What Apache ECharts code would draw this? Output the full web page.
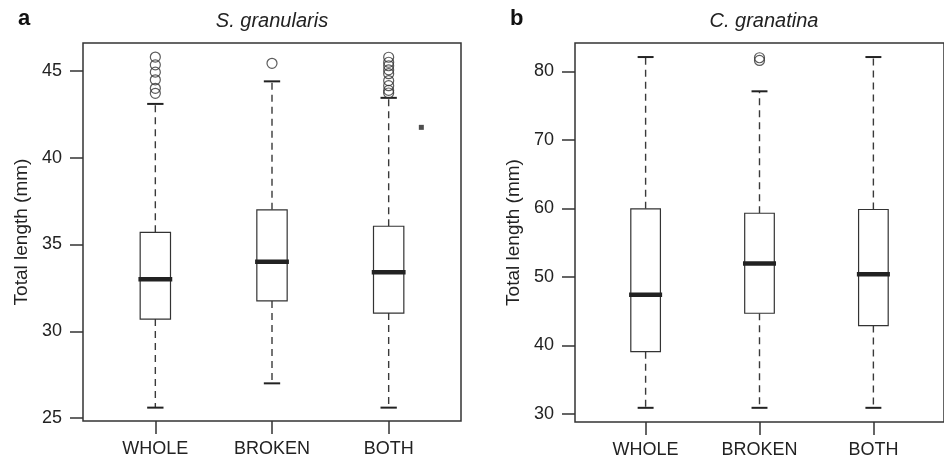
<!DOCTYPE html>
<html>
<head>
<meta charset="utf-8">
<script src="https://cdn.jsdelivr.net/npm/echarts@6/dist/echarts.min.js"></script>
<style>
  html, body { margin: 0; padding: 0; background: #fff; }
  #chart { width: 944px; height: 459px; }
</style>
</head>
<body>
<div id="chart"></div>
<script>
const categories = ['WHOLE', 'BROKEN', 'BOTH'];

// S. granularis: [lower whisker, Q1, median, Q3, upper whisker]
const granularisStats = [
  [25.6, 30.7, 33.0, 35.7, 43.1],
  [27.0, 31.75, 34.0, 37.0, 44.4],
  [25.6, 31.05, 33.4, 36.05, 43.45]
];
// outliers: [category index (1-based), value]
const granularisOutliers = [
  [1, 45.8], [1, 45.35], [1, 44.93], [1, 44.49], [1, 44.0], [1, 43.71],
  [2, 45.44],
  [3, 45.79], [3, 45.5], [3, 45.3], [3, 45.06], [3, 44.84], [3, 44.44],
  [3, 44.15], [3, 43.88], [3, 43.73]
];
const granularisStray = [[3.28, 41.75]];

// C. granatina
const granatinaStats = [
  [30.9, 39.1, 47.4, 59.95, 82.1],
  [30.9, 44.7, 51.95, 59.3, 77.1],
  [30.9, 42.9, 50.4, 59.85, 82.1]
];
const granatinaOutliers = [[2, 82.0], [2, 81.6]];

const granularisTicks = [25, 30, 35, 40, 45];
const granatinaTicks = [30, 40, 50, 60, 70, 80];

const font = "'Liberation Sans', Arial, sans-serif";
const ink = '#222';

// R-style box: dashed whiskers, short staples, thick median
function renderBox(params, api) {
  const x = api.value(0);
  const unit = api.size([1, 0])[0];
  const half = unit * 0.13;
  const medHalf = unit * 0.145;
  const capHalf = unit * 0.07;
  const lo = api.coord([x, api.value(1)]);
  const q1 = api.coord([x, api.value(2)]);
  const md = api.coord([x, api.value(3)]);
  const q3 = api.coord([x, api.value(4)]);
  const hi = api.coord([x, api.value(5)]);
  const cx = lo[0];
  const dash = { stroke: '#3a3a3a', lineWidth: 1.4, lineDash: [7, 5] };
  const cap = { stroke: ink, lineWidth: 2 };
  return {
    type: 'group',
    children: [
      { type: 'line', shape: { x1: cx, y1: q3[1], x2: cx, y2: hi[1] }, style: dash },
      { type: 'line', shape: { x1: cx, y1: q1[1], x2: cx, y2: lo[1] }, style: dash },
      { type: 'line', shape: { x1: cx - capHalf, y1: hi[1], x2: cx + capHalf, y2: hi[1] }, style: cap },
      { type: 'line', shape: { x1: cx - capHalf, y1: lo[1], x2: cx + capHalf, y2: lo[1] }, style: cap },
      { type: 'rect', shape: { x: cx - half, y: q3[1], width: half * 2, height: q1[1] - q3[1] },
        style: { fill: '#fff', stroke: '#333', lineWidth: 1.2 } },
      { type: 'line', shape: { x1: cx - medHalf, y1: md[1], x2: cx + medHalf, y2: md[1] },
        style: { stroke: ink, lineWidth: 4.5 } }
    ]
  };
}

function boxData(stats) {
  return stats.map((s, i) => [i + 1].concat(s));
}

function xAxis(gridIndex) {
  return {
    gridIndex: gridIndex,
    type: 'value',
    min: 0.38,
    max: 3.62,
    axisLine: { show: false },
    splitLine: { show: false },
    axisTick: { customValues: [1, 2, 3], length: 13, lineStyle: { color: '#333', width: 1.5 } },
    axisLabel: {
      customValues: [1, 2, 3],
      margin: 19,
      fontSize: 18,
      fontFamily: font,
      color: ink,
      formatter: v => categories[Math.round(v) - 1]
    }
  };
}

function yAxis(gridIndex, min, max, ticks) {
  return {
    gridIndex: gridIndex,
    type: 'value',
    min: min,
    max: max,
    name: 'Total length (mm)',
    nameLocation: 'middle',
    nameGap: 52,
    nameRotate: 90,
    nameTextStyle: { fontSize: 19, fontFamily: font, color: ink },
    axisLine: { show: false },
    splitLine: { show: false },
    axisTick: { customValues: ticks, length: 13, lineStyle: { color: '#333', width: 1.5 } },
    axisLabel: { customValues: ticks, margin: 21, fontSize: 18, fontFamily: font, color: ink }
  };
}

const outlierStyle = { color: 'rgba(0,0,0,0)', borderColor: '#333', borderWidth: 1.2 };

const chart = echarts.init(document.getElementById('chart'), null, { renderer: 'canvas' });
chart.setOption({
  animation: false,
  backgroundColor: '#fff',
  grid: [
    { left: 83, top: 43, width: 378, height: 378, show: true, borderColor: '#333', borderWidth: 1.5 },
    { left: 575, top: 43, width: 378, height: 379, show: true, borderColor: '#333', borderWidth: 1.5 }
  ],
  xAxis: [xAxis(0), xAxis(1)],
  yAxis: [yAxis(0, 24.83, 46.61, granularisTicks), yAxis(1, 28.83, 84.15, granatinaTicks)],
  graphic: [
    { type: 'text', x: 18, y: 19, style: { text: 'a', fontSize: 22, fontWeight: 'bold', fontFamily: font, fill: '#111', verticalAlign: 'middle' } },
    { type: 'text', x: 272, y: 21, style: { text: 'S. granularis', fontSize: 20, fontStyle: 'italic', fontFamily: font, fill: ink, align: 'center', verticalAlign: 'middle' } },
    { type: 'text', x: 510, y: 19, style: { text: 'b', fontSize: 22, fontWeight: 'bold', fontFamily: font, fill: '#111', verticalAlign: 'middle' } },
    { type: 'text', x: 764, y: 21, style: { text: 'C. granatina', fontSize: 20, fontStyle: 'italic', fontFamily: font, fill: ink, align: 'center', verticalAlign: 'middle' } }
  ],
  series: [
    { type: 'custom', xAxisIndex: 0, yAxisIndex: 0, renderItem: renderBox, data: boxData(granularisStats) },
    { type: 'scatter', xAxisIndex: 0, yAxisIndex: 0, symbol: 'circle', symbolSize: 10, itemStyle: outlierStyle, data: granularisOutliers },
    { type: 'scatter', xAxisIndex: 0, yAxisIndex: 0, symbol: 'rect', symbolSize: 5, itemStyle: { color: ink }, data: granularisStray },
    { type: 'custom', xAxisIndex: 1, yAxisIndex: 1, renderItem: renderBox, data: boxData(granatinaStats) },
    { type: 'scatter', xAxisIndex: 1, yAxisIndex: 1, symbol: 'circle', symbolSize: 10, itemStyle: outlierStyle, data: granatinaOutliers }
  ]
});
</script>
</body>
</html>
